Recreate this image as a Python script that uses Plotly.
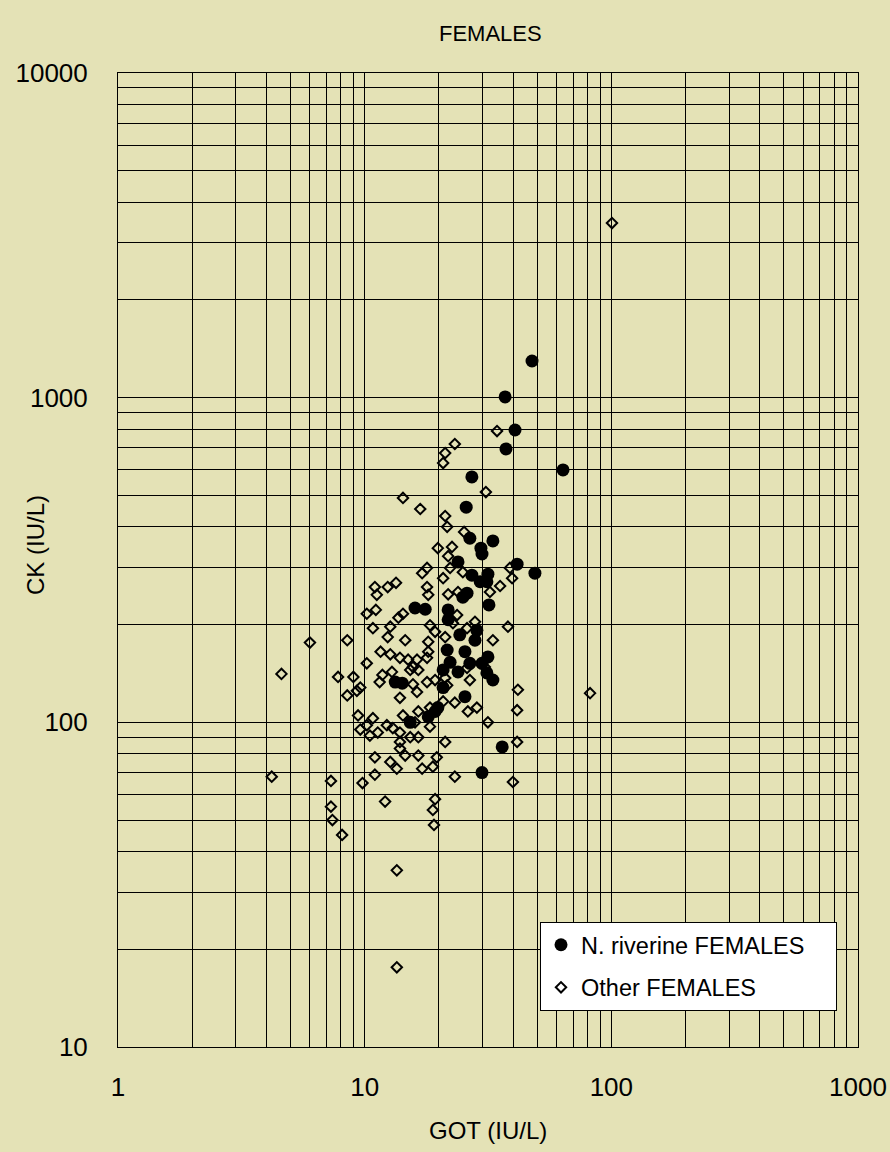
import plotly.graph_objects as go

# N. riverine FEMALES
riverine_got = [47.7, 37.1, 40.7, 37.4, 63.7, 27.2, 25.8, 26.7, 33.1, 29.6, 29.9, 23.9, 41.5, 49.0,
                27.2, 31.6, 29.4, 31.3, 25.0, 26.0, 31.9, 16.0, 17.6, 21.8, 21.8, 28.5, 24.3, 28.0,
                21.6, 25.5, 31.6, 22.2, 26.7, 20.8, 23.9, 31.3, 33.1, 13.3, 14.2, 25.5, 19.8, 19.3,
                18.1, 15.3, 36.1, 29.9, 29.9, 20.8]
riverine_ck = [1297, 1005, 795, 695, 599, 570, 460, 369, 362, 344, 330, 312, 307, 288,
               284, 286, 271, 271, 243, 250, 230, 225, 223, 222, 207, 192, 186, 179,
               167, 165, 159, 153, 152, 145, 143, 142, 135, 133, 132, 120, 111, 108,
               104, 100, 84, 70, 152, 128]

# Other FEMALES
other_got = [100.6, 34.4, 23.2, 21.2, 20.8, 31.0, 14.3, 16.8, 21.2, 21.6, 25.3, 19.8, 22.6, 21.8,
             22.2, 17.9, 17.1, 20.8, 25.0, 11.0, 12.4, 13.4, 17.9, 35.4, 39.6, 38.8, 21.8, 23.9,
             32.2, 11.2, 18.1, 10.2, 11.1, 14.3, 13.7, 10.8, 12.7, 8.5, 12.4, 14.6, 18.4, 19.3,
             18.1, 21.2, 22.8, 23.7, 28.0, 26.0, 33.1, 38.1, 11.6, 12.7, 13.9, 15.0, 16.3, 18.1,
             17.9, 10.2, 15.7, 26.0, 30.7, 6.0, 4.6, 7.8, 9.0, 9.6, 9.3, 8.5, 11.8, 11.5,
             12.9, 15.3, 16.5, 13.9, 15.7, 16.3, 17.9, 19.3, 21.6, 21.2, 26.7, 23.2, 26.2, 28.5,
             41.8, 41.5, 31.6, 9.4, 10.8, 10.2, 9.6, 10.5, 11.3, 12.3, 13.0, 13.9, 14.3, 16.5,
             18.4, 16.0, 18.4, 21.2, 16.5, 15.3, 13.9, 41.5, 20.8, 11.0, 13.9, 14.6, 16.5, 19.6,
             12.7, 13.5, 17.1, 18.9, 11.0, 9.8, 23.2, 39.9, 7.3, 4.2, 12.1, 19.3, 18.9, 19.1,
             7.3, 7.4, 8.1, 13.5, 13.5, 82.0]
other_ck = [3450, 789, 720, 675, 629, 512, 491, 454, 432, 400, 386, 344, 347, 325,
            299, 299, 288, 278, 290, 261, 261, 269, 261, 263, 278, 299, 248, 252,
            252, 247, 247, 216, 222, 216, 210, 195, 197, 179, 183, 179, 199, 190,
            177, 183, 202, 214, 204, 195, 179, 197, 165, 162, 158, 156, 156, 165,
            158, 152, 148, 147, 148, 176, 141, 138, 138, 128, 125, 121, 140, 133,
            143, 145, 145, 119, 131, 124, 133, 135, 130, 137, 135, 115, 108, 111,
            126, 109, 100, 105, 103, 98, 95, 91, 93, 98, 96, 93, 105, 108,
            111, 100, 97, 87, 90, 90, 87, 87, 116, 78, 83, 79, 79, 78,
            75.5, 72, 72, 73, 69, 65, 68, 65.5, 66, 68, 57, 58, 53.7, 48.3,
            55, 50, 45, 35, 17.6, 123]

x_decades = [1, 10, 100, 1000]
y_decades = [10, 100, 1000, 10000]
x_tick_labels = ["1", "10", "100", "1000"]
y_tick_labels = ["10", "100", "1000", "10000"]


def log_ticks(decades, labels):
    vals, texts = [], []
    for d, lab in zip(decades, labels):
        if d == decades[-1]:
            vals.append(d)
            texts.append(lab)
            break
        for m in range(1, 10):
            vals.append(d * m)
            texts.append(lab if m == 1 else "")
    return vals, texts


xv, xt = log_ticks(x_decades, x_tick_labels)
yv, yt = log_ticks(y_decades, y_tick_labels)

BG = "#E4E2B6"
FONT = "Liberation Sans, Arial, sans-serif"
PAD = "\u00a0" * 4

fig = go.Figure()
fig.add_trace(go.Scatter(
    x=riverine_got, y=riverine_ck, mode="markers", name="N. riverine FEMALES" + PAD,
    legendgroup="a",
    marker=dict(symbol="circle", size=13, color="black"),
))
fig.add_trace(go.Scatter(
    x=other_got, y=other_ck, mode="markers", name="Other FEMALES",
    legendgroup="b",
    marker=dict(symbol="diamond-open", size=8, color="black", line=dict(width=2, color="black")),
))

axis_common = dict(
    type="log", showgrid=True, gridcolor="black", gridwidth=1,
    showline=True, linecolor="black", linewidth=1, mirror=True, automargin=False,
    ticks="", zeroline=False, tickfont=dict(family=FONT, size=26, color="black"),
)
fig.update_xaxes(range=[0, 3], tickvals=xv, ticktext=xt, ticklabelstandoff=17, **axis_common)
fig.update_yaxes(range=[1, 4], tickvals=yv, ticktext=yt, ticklabelstandoff=24, **axis_common)

plot_w = 890 - 118 - 32
plot_h = 1152 - 73 - 105

fig.update_layout(
    width=890, height=1152, autosize=False,
    margin=dict(l=118, r=32, t=73, b=105, autoexpand=False),
    paper_bgcolor=BG, plot_bgcolor=BG,
    font=dict(family=FONT, color="black"),
    showlegend=True,
    legend=dict(
        x=(540 - 118) / plot_w, y=(1047 - 922) / plot_h, xanchor="left", yanchor="top",
        bgcolor="white", bordercolor="black", borderwidth=1,
        font=dict(family=FONT, size=23.5, color="black"),
        tracegroupgap=9,
    ),
    annotations=[
        dict(text="FEMALES", x=(490 - 118) / plot_w, y=(1047 - 33) / plot_h,
             xref="paper", yref="paper", showarrow=False, xanchor="center", yanchor="middle",
             font=dict(size=22, family=FONT, color="black")),
        dict(text="CK (IU/L)", textangle=-90, x=(35 - 118) / plot_w, y=(1047 - 545) / plot_h,
             xref="paper", yref="paper", xanchor="center", yanchor="middle",
             showarrow=False, font=dict(size=24, family=FONT, color="black")),
        dict(text="GOT (IU/L)", x=(488 - 118) / plot_w, y=(1047 - 1130) / plot_h,
             xref="paper", yref="paper", showarrow=False, xanchor="center",
             yanchor="middle", font=dict(size=24, family=FONT, color="black")),
    ],
)

fig.write_html(
    "out.html",
    config={"responsive": False, "displayModeBar": False},
    default_width="890px", default_height="1152px",
    post_script="document.body.style.margin='0';document.body.style.overflow='hidden';",
)
